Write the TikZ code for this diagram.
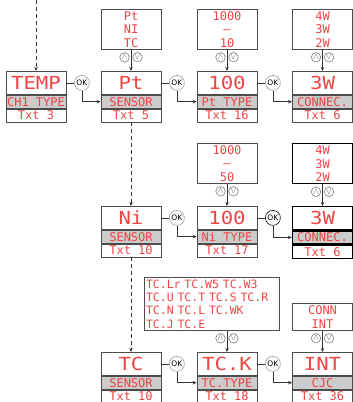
\documentclass[tikz,border=0pt]{standalone}
\usepackage{fontspec}
\newfontfamily\lcdbig[FakeStretch=1.15]{DejaVu Sans Mono}
\newfontfamily\lcdsmall{DejaVu Sans Mono}
\newfontfamily\okfont{DejaVu Sans}
\usetikzlibrary{arrows.meta}
\definecolor{lcdred}{RGB}{238,68,68}

\tikzset{
  box/.style={draw=black!70, line width=0.8pt, minimum width=60pt, inner sep=0pt, text=lcdred},
  top/.style={box, minimum height=23pt, font=\fontsize{18}{18}\selectfont\lcdbig},
  mid/.style={box, minimum height=13pt, fill=black!20, font=\fontsize{12}{12}\selectfont\lcdsmall},
  bot/.style={box, minimum height=13pt, font=\fontsize{12}{12}\selectfont\lcdsmall},
  opts/.style={box, align=center, font=\fontsize{12}{13.5}\selectfont\lcdsmall},
  norm/.style={},
  sel/.style={draw=black, line width=1.3pt},
  okbtn/.style={circle, draw=black!35, fill=white, line width=0.7pt, minimum size=15pt, inner sep=0pt, font=\okfont\fontsize{7.5}{8}\selectfont},
  keybtn/.style={circle, draw=black!45, fill=white, line width=0.7pt, minimum size=9.5pt, inner sep=0pt, text=black!60, font=\fontsize{9}{9}\selectfont},
  flow/.style={draw=black!80, line width=0.8pt, -{Stealth[length=4pt,width=3.5pt]}},
  jump/.style={flow, dash pattern=on 4pt off 3pt}
}

\begin{document}
\begin{tikzpicture}[x=1pt,y=-1pt]
  \useasboundingbox (0,0) rectangle (353,402);

  % displays: name / x / top / value / parameter / text number / style
  \foreach \n/\x/\y/\a/\b/\c/\s in {
      temp/36/71/TEMP/CH1 TYPE/Txt 3/norm,
      pt/131/71/Pt/SENSOR/Txt 5/norm,
      ptr/227/71/100/Pt TYPE/Txt 16/norm,
      ptc/322.5/71/3W/CONNEC./Txt 6/norm,
      ni/131/206/Ni/SENSOR/Txt 10/norm,
      nir/227/206/100/Ni TYPE/Txt 17/norm,
      nic/322.5/206/3W/CONNEC./Txt 6/sel,
      tc/131/352/TC/SENSOR/Txt 10/norm,
      tck/227/352/TC.K/TC.TYPE/Txt 18/norm,
      cjc/322.5/352/INT/CJC/Txt 36/norm}
  {
    \node[top, \s, anchor=north] (\n-t) at (\x,\y) {\a};
    \node[mid, \s, anchor=north] (\n-m) at (\n-t.south) {\b};
    \node[bot, \s, anchor=north] (\n-b) at (\n-m.south) {\c};
  }

  % option lists
  \node[opts, minimum height=40pt, anchor=north] (o-pt) at (131,9) {Pt\\NI\\TC};
  \node[opts, minimum height=40pt, anchor=north] (o-ptr) at (227,9) {1000\\–\\10};
  \node[opts, minimum height=40pt, anchor=north] (o-ptc) at (322.5,9) {4W\\3W\\2W};
  \node[opts, minimum height=40pt, anchor=north] (o-nir) at (227,143) {1000\\–\\50};
  \node[opts, sel, minimum height=40pt, anchor=north] (o-nic) at (322.5,143) {4W\\3W\\2W};
  \node[opts, align=left, text width=131pt, inner xsep=2pt, minimum height=53pt,
        font=\fontsize{11.5}{13.3}\selectfont\lcdsmall, anchor=north] (o-tck) at (211.5,277)
        {TC.Lr TC.W5 TC.W3\\TC.U TC.T TC.S TC.R\\TC.N TC.L TC.WK\\TC.J TC.E};
  \node[opts, minimum height=27pt, anchor=north] (o-cjc) at (322.5,303) {CONN\\INT};

  % up / down keys
  \foreach \o/\d in {o-pt/pt, o-ptr/ptr, o-ptc/ptc, o-nir/nir, o-nic/nic, o-tck/tck, o-cjc/cjc}
  {
    \draw[flow] (\o.south -| \d-t) -- (\d-t);
    \path (\o.south -| \d-t) ++(-6.5,7.5) node[keybtn] (\d-up) {$\wedge$};
    \path (\o.south -| \d-t) ++(6.5,7.5) node[keybtn] (\d-dn) {$\vee$};
  }

  % OK keys
  \foreach \a/\b/\k in {temp/pt/black!35, pt/ptr/black!35, ptr/ptc/black!35,
                        ni/nir/black!35, nir/nic/black!85, tc/tck/black!35, tck/cjc/black!35}
  {
    \path (\a-t.east) ++(15.5,0) node[okbtn, draw=\k] (\a-ok) {OK};
    \draw[black!80, line width=0.8pt] (\a-t.east) -- (\a-ok);
    \draw[flow] (\a-ok.south) |- (\b-m.west);
  }

  % sensor selection
  \coordinate (entry) at (36,0);
  \draw[jump] (entry) -- (temp-t);
  \draw[jump] (pt-b) -- (ni-t);
  \draw[jump] (ni-b) -- (tc-t);
\end{tikzpicture}
\end{document}
